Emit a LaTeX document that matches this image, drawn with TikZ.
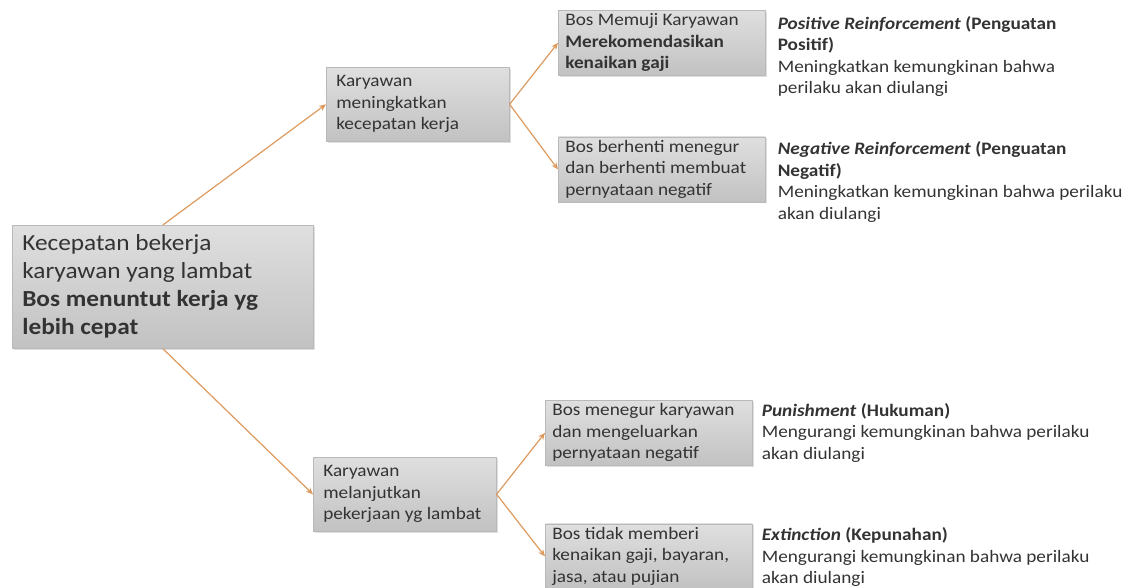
\documentclass[tikz,border=0pt]{standalone}
\usepackage{fontspec}
\setmainfont{Carlito}[FakeStretch=1.1]
\usetikzlibrary{arrows.meta, positioning, shadows}
\definecolor{arroworange}{HTML}{DE9A5E}
\definecolor{boxtext}{HTML}{333333}

\begin{document}
\begin{tikzpicture}[
    x=1pt, y=-1pt,
    node distance=60pt and 12pt,
    box/.style={rectangle, draw=gray!55, line width=0.6pt, top color=gray!25, bottom color=gray!48, align=left, text=boxtext, inner ysep=2pt, font=\fontsize{17.5}{21.5}\selectfont, execute at begin node=\spaceskip0pt\xspaceskip0pt\relax, drop shadow={shadow xshift=1.5pt, shadow yshift=-1.5pt, opacity=0.25}},
    rootbox/.style={box, text width=281pt, inner xsep=10pt, minimum height=123pt, font=\fontsize{23}{28}\selectfont},
    midbox/.style={box, text width=163pt, inner xsep=10pt, minimum height=74pt},
    leafbox/.style={box, text width=193pt, inner xsep=7pt, minimum height=65pt},
    desc/.style={inner sep=0pt, align=left, text=boxtext, font=\fontsize{17.5}{21.5}\selectfont},
    arrow/.style={-{Stealth[length=7pt, width=6pt]}, draw=arroworange, line width=1.2pt}
]
\useasboundingbox (0,0) rectangle (1125,587);

% main boxes
\node[rootbox, anchor=north west] (root) at (12,225) {Kecepatan bekerja\\karyawan yang lambat\\\textbf{Bos menuntut kerja yg}\\\textbf{lebih cepat}};
\node[midbox, anchor=north west] (cepat) at (326,67) {Karyawan\\meningkatkan\\kecepatan kerja};
\node[midbox, anchor=north west] (lambat) at (313,457) {Karyawan\\melanjutkan\\pekerjaan yg lambat};

% consequences
\node[leafbox, anchor=north west] (puji) at (558,10) {Bos Memuji Karyawan\\\textbf{Merekomendasikan}\\\textbf{kenaikan gaji}};
\node[leafbox, below=61pt of puji] (henti) {Bos berhenti menegur\\dan berhenti membuat\\pernyataan negatif};
\node[leafbox, anchor=north west] (tegur) at (545,400) {Bos menegur karyawan\\dan mengeluarkan\\pernyataan negatif};
\node[leafbox, below=58pt of tegur] (tidak) {Bos tidak memberi\\kenaikan gaji, bayaran,\\jasa, atau pujian};

% descriptions
\node[desc, below right=6pt and 12pt of puji.north east] (pos) {\textbf{\textit{Positive Reinforcement} (Penguatan}\\\textbf{Positif)}\\Meningkatkan kemungkinan bahwa\\perilaku akan diulangi};
\node[desc, below right=5pt and 12pt of henti.north east] (neg) {\textbf{\textit{Negative Reinforcement} (Penguatan}\\\textbf{Negatif)}\\Meningkatkan kemungkinan bahwa perilaku\\akan diulangi};
\node[desc, below right=3pt and 9pt of tegur.north east] (hukum) {\textbf{\textit{Punishment} (Hukuman)}\\Mengurangi kemungkinan bahwa perilaku\\akan diulangi};
\node[desc, below right=4pt and 9pt of tidak.north east] (punah) {\textbf{\textit{Extinction} (Kepunahan)}\\Mengurangi kemungkinan bahwa perilaku\\akan diulangi};

\draw[arrow] (root.north) -- (cepat.west);
\draw[arrow] (root.south) -- (lambat.west);
\draw[arrow] (cepat.east) -- (puji.west);
\draw[arrow] (cepat.east) -- (henti.west);
\draw[arrow] (lambat.east) -- (tegur.west);
\draw[arrow] (lambat.east) -- (tidak.west);
\end{tikzpicture}
\end{document}
